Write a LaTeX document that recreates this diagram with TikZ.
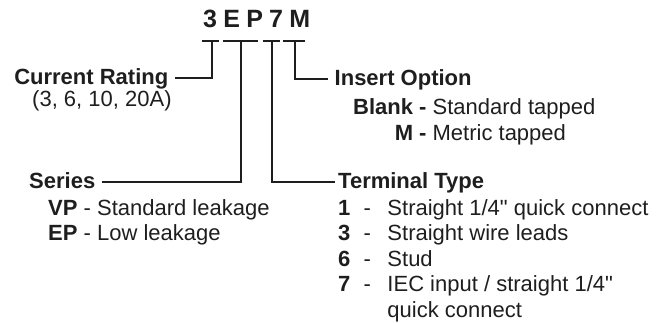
\documentclass[tikz,border=0pt]{standalone}
\usepackage{fontspec}
\setmainfont{Liberation Sans}[Ligatures=TeXOff]
\definecolor{ink}{HTML}{1E1E1E}
\begin{document}
\begin{tikzpicture}[x=1pt,y=-1pt,every node/.style={inner sep=0pt,text=ink},
	heading/.style={font=\bfseries\fontsize{22}{25.5}\selectfont,inner xsep=6.5pt,text height=16pt,text depth=3pt},
	detail/.style={font=\fontsize{22}{25.5}\selectfont,anchor=base west},
	tee/.style={line width=1.4pt,draw=ink}]
	\useasboundingbox (0,0) rectangle (668,323);
	% Specification of nodes (position, etc.)
	\node (code)		[anchor=base west,font=\bfseries\fontsize{25}{30}\selectfont\addfontfeature{LetterSpace=25}]
													at (203,28)		{3EP7M};
	\node (rating)		[heading, anchor=east]		at (175,78)		{Current Rating};
	\node (insert)		[heading, anchor=west]		at (328,79)		{Insert Option};
	\node (series)		[heading, anchor=east]		at (102,182)	{Series};
	\node (terminal)	[heading, anchor=west, inner xsep=3pt]	at (335,182)	{Terminal Type};

	\node (ratingList)	[detail]	at (32,107)		{(3, 6, 10, 20A)};
	\node (insertList)	[detail]	at (353,115)
		{\begin{tabular}[t]{@{}r@{\ }l@{}}
			\textbf{Blank -} & Standard tapped\\
			\textbf{M -} & Metric tapped
		\end{tabular}};
	\node (seriesList)	[detail]	at (48,215)
		{\begin{tabular}[t]{@{}l@{}}
			\textbf{VP} - Standard leakage\\
			\textbf{EP} - Low leakage
		\end{tabular}};
	\node (terminalList)[detail]	at (338,215)
		{\begin{tabular}[t]{@{}l@{\hspace{0.75em}}l@{}}
			\textbf{1}\hspace{0.6em}- & Straight 1/4" quick connect\\
			\textbf{3}\hspace{0.6em}- & Straight wire leads\\
			\textbf{6}\hspace{0.6em}- & Stud\\
			\textbf{7}\hspace{0.6em}- & IEC input / straight 1/4"\\
			& quick connect
		\end{tabular}};

	% Specification of the bars under the code, with a tee point on each
	\foreach \n/\a/\b/\t in {rate/202/219/212, ser/223/258/241, term/263/280/272, ins/283/305/295}{
		\coordinate (\n L) at (\a,41);
		\coordinate (\n R) at (\b,41);
		\coordinate (\n T) at (\t,41);
		\draw[tee] (\n L) -- (\n R);
	}

	% Specification of lines from the tees to the headings
	\draw[tee]	(rateT) |- (rating.east);
	\draw[tee]	(insT) |- (insert.west);
	\draw[tee]	(serT) |- (series.east);
	\draw[tee]	(termT) |- (terminal.west);
\end{tikzpicture}
\end{document}
